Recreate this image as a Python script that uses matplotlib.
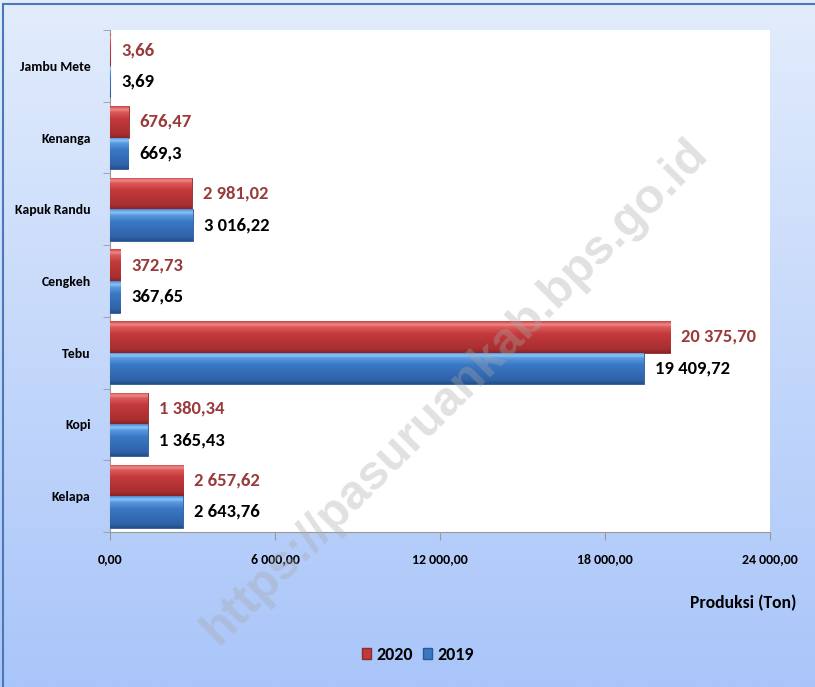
import matplotlib
matplotlib.use("Agg")
import matplotlib.pyplot as plt
import numpy as np
from matplotlib.patches import Rectangle
from matplotlib.colors import LinearSegmentedColormap

FONT = ['Carlito', 'Liberation Sans Narrow', 'Liberation Sans', 'DejaVu Sans']
plt.rcParams['font.family'] = FONT

categories = ["Kelapa", "Kopi", "Tebu", "Cengkeh", "Kapuk Randu", "Kenanga", "Jambu Mete"]
val_2020 = [2657.62, 1380.34, 20375.70, 372.73, 2981.02, 676.47, 3.66]
val_2019 = [2643.76, 1365.43, 19409.72, 367.65, 3016.22, 669.3, 3.69]
lab_2020 = ["2 657,62", "1 380,34", "20 375,70", "372,73", "2 981,02", "676,47", "3,66"]
lab_2019 = ["2 643,76", "1 365,43", "19 409,72", "367,65", "3 016,22", "669,3", "3,69"]
xticks = [0, 6000, 12000, 18000, 24000]
xticklabels = ["0,00", "6 000,00", "12 000,00", "18 000,00", "24 000,00"]

fig = plt.figure(figsize=(8.15, 6.87), dpi=100)

# background gradient
bg = fig.add_axes([0, 0, 1, 1], zorder=-10)
grad = np.linspace(0, 1, 256).reshape(-1, 1)
cmap_bg = LinearSegmentedColormap.from_list("bg", ["#e2ecfc", "#a9c5f9"])
bg.imshow(grad, aspect='auto', cmap=cmap_bg, extent=[0, 1, 0, 1], origin='upper')
bg.set_xlim(0, 1); bg.set_ylim(0, 1)
bg.axis('off')
bg.plot([0.004, 0.004], [0, 0.994], color="#4a78b8", lw=1.5)
bg.plot([0.004, 1], [0.994, 0.994], color="#4a78b8", lw=1.5)

ax = fig.add_axes([110/815, 1-532/687, 660/815, 502/687])
ax.set_facecolor("white")
y = np.arange(len(categories))
h = 0.44

red_cmap = LinearSegmentedColormap.from_list("r", [(0, "#8a2426"), (0.12, "#a82e30"), (0.6, "#c43a3c"), (0.82, "#dc5a5a"), (0.9, "#f08a8a"), (1, "#c84444")])
blue_cmap = LinearSegmentedColormap.from_list("b", [(0, "#24508a"), (0.12, "#2f62a8"), (0.6, "#3a78c4"), (0.82, "#5a9ae0"), (0.9, "#8cc6f8"), (1, "#4a8ad4")])

r = ax.barh(y + h/2, val_2020, height=h, color="#c0393b", edgecolor="#8e2a2a", lw=0.6, zorder=3)
b = ax.barh(y - h/2, val_2019, height=h, color="#3b78c3", edgecolor="#2a5a96", lw=0.6, zorder=3)
vgrad = np.linspace(0, 1, 64).reshape(-1, 1)
for bars, cm in ((r, red_cmap), (b, blue_cmap)):
    for p in bars:
        x0, y0 = p.get_x(), p.get_y()
        w, hh = p.get_width(), p.get_height()
        im = ax.imshow(vgrad, aspect='auto', cmap=cm, origin='lower',
                       extent=[x0, x0 + w, y0, y0 + hh], zorder=3.5, interpolation='bilinear')
        im.set_clip_path(p)

off = 400
for i in range(len(categories)):
    ax.text(val_2020[i] + off, y[i] + h/2, lab_2020[i], va='center', ha='left',
            fontsize=13.4, fontweight='bold', color="#9a3a3a", zorder=5)
    ax.text(val_2019[i] + off, y[i] - h/2, lab_2019[i], va='center', ha='left',
            fontsize=13.4, fontweight='bold', color="black", zorder=5)

ax.set_xlim(0, 24000)
ax.set_ylim(-0.5, len(categories) - 0.5)
ax.set_xticks(xticks)
ax.set_xticklabels(xticklabels, fontsize=10, fontweight='bold')
ax.set_yticks(y)
ax.set_yticklabels(categories, fontsize=9.9, fontweight='bold')
ax.set_yticks(np.arange(-0.5, len(categories), 1), minor=True)
ax.tick_params(axis='y', which='major', length=0, pad=14)
ax.tick_params(axis='y', which='minor', length=5, color="#999999", direction='out')
ax.tick_params(axis='x', length=6, color="#999999", direction='out', pad=9)
for s in ['top', 'right']:
    ax.spines[s].set_visible(False)
ax.spines['left'].set_color("#999999")
ax.spines['bottom'].set_color("#999999")

fig.text(797/815, 1-603/687, "Produksi (Ton)", ha='right', va='center', fontsize=12.7, fontweight='bold')

# legend
handles = [Rectangle((0, 0), 1, 1, facecolor="#c0393b", edgecolor="#8e2a2a"),
           Rectangle((0, 0), 1, 1, facecolor="#3b78c3", edgecolor="#2a5a96")]
leg = fig.legend(handles, ["2020", "2019"], loc='center', bbox_to_anchor=(418/815, 1-655/687),
                 ncol=2, frameon=False, prop={'size': 13, 'weight': 'bold', 'family': FONT},
                 handlelength=0.5, handleheight=0.5, handletextpad=0.3, columnspacing=0.6)

# watermark
fig.text(455/815, 1-392/687, "https://pasuruankab.bps.go.id", rotation=45, ha='center', va='center',
         fontsize=35, fontweight='bold', color="#a8a8a8", alpha=0.35,
         family=['Liberation Sans', 'DejaVu Sans'], zorder=10)

fig.savefig("out.png", dpi=100)
